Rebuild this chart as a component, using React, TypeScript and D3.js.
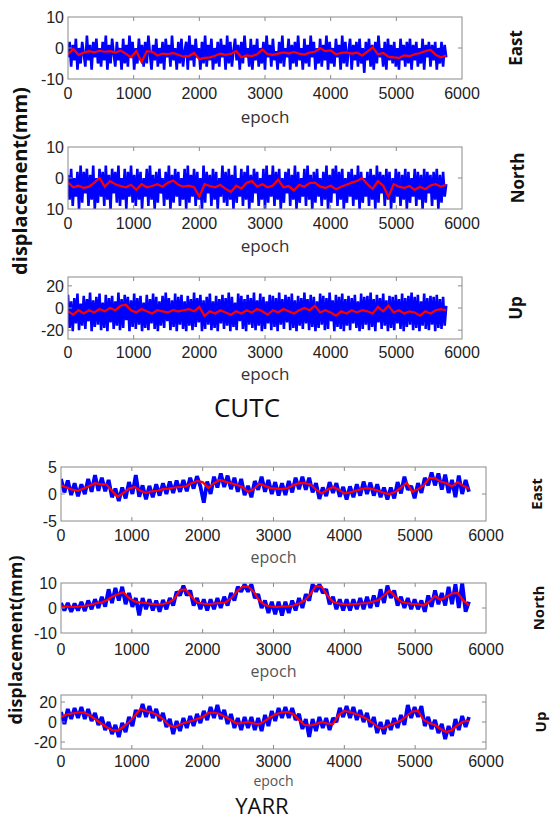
import React, { useRef, useEffect } from 'react';
import * as d3 from 'd3';

// last epoch of every series (samples are evenly spaced from 0 to here)
const LAST_EPOCH = 5760;
const xTicks = [0, 1000, 2000, 3000, 4000, 5000, 6000];

// ---- CUTC ----
const cutcEastRed = [-2, -0.3, -2.2, -1.5, -1.0, -1.4, -0.9, -1.2, -1.0, -1.5, -0.8, -1.8, -3.0, -1.0, -4.5, -1.0, -1.2, -2.4, -1.8, -2.0, -1.6, -2.2, -2.8, -2.6, -1.6, -3.6, -3.2, -3.0, -2.5, -1.8, -2.2, -1.9, -1.0, -3.0, -2.4, -2.6, -2.0, -0.5, -2.0, -2.2, -1.8, -1.4, -1.7, -1.3, -1.8, -2.1, -1.5, -1.2, 0.0, -1.0, -0.8, -2.0, -1.6, -1.4, -1.8, -1.5, -2.4, -1.2, 0.2, -2.0, -1.6, -2.8, -3.0, -3.2, -2.4, -2.6, -2.0, -1.6, -1.0, -0.6, -2.2, -3.0, -2.4];
const cutcEastBlue = [
  -3, 2, -6, 1, -4, 3, -7, 0, -5, 2,
  -2, -6, 4, -4, 1, -7, 2, -3, 3, -5,
  0, -6, 2, -4, 4, -7, 1, -5, 3, -2,
  -6, 2, -4, 0, -7, 3, -5, 1, -6, 4,
  -3, 2, -7, 0, -5, 3, -4, 1, -6, 2,
  -5, 4, -2, -7, 1, -4, 3, -6, 0, -5,
  2, -7, 3, -3, 1, -6, 4, -4, 0, -7,
  2, -5, 3, -6, -1, 2, -7, 4, -4, 1,
  -6, 3, -3, 0, -7, 2, -5, 4, -6, 1,
  -4, 3, -7, 0, -5, 2, -6, 3, -3, 1,
  -7, 4, -5, 2, -6, -1, 3, -4, 1, -7,
  2, -5, 4, -3, 0, -6, 3, -7, 1, -4,
  3, -6, 0, -5, 2, -7, 4, -3, 1, -6,
  3, -4, -1, -7, 2, -5, 4, -6, 0, -3,
  3, -7, 1, -5, 2, -6, 4, -4, 0, -7,
  3, -5, 1, -6, 4, -3, 2, -7, 0, -5,
  3, -6, 1, -4, 4, -7, 2, -5, 0, -6,
  3, -3, 1, -7, 4, -5, 2, -6, -1, 3,
  -7, 1, -4, 2, -6, 3, -5, 0, -8, 2,
  -4, 3, -6, 1, -7, 2, -5, 4, -3, 0,
  -6, 2, -7, 3, -4, 1, -5, 2, -6, 0,
  -7, 3, -4, 1, -6, 2, -5, 3, -7, 1,
  -4, 2, -6, 0, -5, 3, -7, 1, -3, 2,
  -6, 1, -4, 2, -7, 0, -5, 2, -6, 1,
  -3];

const cutcNorthRed = [-1.5, -3.0, -2.5, -3.2, -2.8, -1.5, 0.0, -2.8, -1.0, -2.0, -2.6, -3.0, -2.2, -3.8, -2.0, -3.0, -2.6, -2.0, -2.8, -1.5, -0.8, -2.2, -2.8, -2.5, -3.0, -6.0, -2.0, -2.6, -3.0, -2.2, -3.5, -4.5, -2.5, -3.4, -1.5, -1.0, -2.8, -2.0, -3.0, -2.4, -0.5, -3.0, -2.6, -4.0, -2.2, -2.8, -1.6, -1.5, -2.8, -3.2, -2.5, -3.6, -2.8, -2.2, -1.5, -1.0, 0.0, -2.0, -3.5, -1.0, -2.5, -6.0, -2.0, -2.8, -3.2, -2.6, -3.8, -2.8, -3.6, -2.4, -2.0, -2.8, -2.2];
const cutcNorthBlue = [
  1, -7, 3, -9, 0, -6, 2, -10, 4, -8,
  2, -5, 3, -9, 1, -7, 4, -10, 0, -8,
  3, -6, 2, -9, 4, -7, 1, -10, 3, -5,
  2, -8, 4, -9, 0, -7, 3, -10, 2, -6,
  4, -8, 1, -9, 3, -7, 2, -10, 0, -6,
  3, -9, 4, -7, 1, -10, 2, -8, 3, -5,
  0, -9, 2, -7, 4, -10, 1, -8, 3, -6,
  2, -9, 0, -7, 3, -10, 4, -8, 1, -6,
  3, -9, 2, -7, 0, -10, 4, -8, 2, -5,
  1, -9, 3, -7, 2, -10, 0, -6, 4, -8,
  2, -9, 3, -7, 1, -10, 4, -8, 0, -6,
  3, -9, 2, -7, 4, -10, 1, -8, 3, -5,
  2, -9, 0, -7, 3, -10, 4, -8, 1, -6,
  4, -9, 2, -7, 3, -10, 0, -8, 2, -5,
  3, -9, 1, -7, 4, -10, 2, -8, 0, -6,
  3, -9, 4, -7, 1, -10, 2, -8, 3, -6,
  0, -9, 2, -7, 4, -10, 1, -8, 3, -5,
  4, -9, 2, -7, 3, -10, 0, -8, 2, -6,
  3, -9, 1, -7, 4, -10, 2, -8, 0, -6,
  2, -9, 3, -7, 1, -10, 4, -8, 2, -5,
  1, -9, 3, -7, 2, -10, 0, -8, 3, -6,
  2, -9, 1, -7, 3, -10, 2, -8, 0, -6,
  3, -9, 2, -7, 1, -10, 3, -8, 2, -5,
  1, -9, 2, -7, 3, -10, 1, -8, 2, -6,
  -2];

const cutcUpRed = [-3, -6, -2, -5, -2, -4, -1, -3, 0, -2, 2, 3, -2, -4, -1, -3, -5, -2, -3, -4, -2, -3, -2, -1, -3, 1, -7, -3, -5, -2, -4, -6, -3, -5, -2, -4, -1, -3, -6, -2, -4, -1, -3, -5, -2, 0, -2, 2, -4, -2, -4, -7, -3, -5, -2, -4, -2, -3, -5, 1, -3, 2, -4, -2, -5, -3, -4, -7, -3, -5, -2, -1, -2];
const cutcUpBlue = [
  12, -18, 6, -21, 9, -14, 13, -20, 4, -16,
  11, -19, 8, -12, 14, -21, 7, -17, 10, -15,
  13, -20, 5, -18, 12, -21, 9, -13, 11, -19,
  6, -16, 14, -20, 8, -18, 12, -11, 10, -21,
  7, -17, 13, -19, 9, -15, 11, -21, 5, -18,
  12, -20, 8, -14, 13, -19, 10, -21, 6, -16,
  11, -18, 14, -12, 9, -20, 7, -17, 13, -21,
  10, -15, 12, -19, 6, -21, 11, -16, 8, -20,
  14, -17, 9, -13, 12, -21, 7, -19, 10, -15,
  13, -20, 6, -18, 11, -21, 8, -14, 12, -19,
  9, -16, 14, -21, 10, -17, 5, -20, 13, -12,
  11, -19, 8, -21, 12, -15, 9, -18, 14, -20,
  7, -16, 13, -21, 10, -19, 6, -14, 12, -20,
  11, -17, 9, -21, 14, -15, 8, -19, 12, -13,
  10, -20, 13, -18, 7, -21, 11, -16, 9, -19,
  14, -14, 8, -20, 12, -17, 10, -21, 6, -18,
  13, -15, 11, -20, 9, -19, 14, -12, 7, -21,
  12, -17, 10, -19, 13, -21, 8, -16, 11, -20,
  9, -14, 12, -18, 6, -21, 13, -19, 10, -15,
  11, -20, 14, -17, 8, -21, 12, -13, 9, -19,
  13, -16, 7, -21, 11, -18, 10, -20, 12, -14,
  8, -19, 13, -21, 9, -17, 11, -15, 14, -20,
  10, -18, 12, -21, 6, -16, 13, -19, 9, -20,
  11, -15, 10, -21, 12, -18, 8, -19, 10, -16,
  2];

// ---- YARR ----
const yarrEastRed = [1.6, 1.2, 0.8, 0.6, 1.0, 1.5, 2.0, 1.8, 1.8, 0.6, -0.5, 0.2, 1.0, 1.3, 0.6, 0.2, 0.5, 0.6, 0.9, 1.0, 1.2, 1.3, 1.4, 2.0, 2.4, 2.2, 1.1, 2.0, 2.6, 2.3, 2.0, 1.7, 1.3, 0.4, 0.9, 1.9, 1.5, 1.1, 1.0, 0.9, 1.1, 1.6, 2.0, 2.0, 1.8, 0.8, 0.1, 0.8, 1.3, 0.8, 0.1, 0.3, 0.6, 0.9, 1.1, 0.9, 0.6, 0.2, 0.0, 0.4, 1.2, 2.1, 0.4, 0.9, 1.6, 3.0, 2.9, 2.3, 2.0, 1.4, 2.2, 1.5, 1.0];
const yarrEastBlue = [2.8, 0.3, 2.5, -0.2, 2.0, -0.4, 1.8, 0.0, 2.8, 0.4, 3.5, 0.6, 3.0, 0.5, 2.6, -0.6, 1.0, -1.3, 1.2, -0.8, 2.2, 0.0, 3.5, -0.5, 1.6, -1.0, 1.5, -0.6, 1.8, -0.3, 2.0, 0.0, 2.3, 0.2, 2.5, 0.4, 2.6, 0.5, 3.0, 1.0, 3.3, 1.4, -1.6, 2.3, 0.0, 3.2, 1.2, 3.8, 1.3, 3.4, 0.9, 3.0, 0.4, 2.8, -0.2, 1.5, -0.6, 2.4, 0.8, 3.2, 0.4, 2.6, 0.0, 2.2, -0.3, 2.0, -0.2, 2.4, 0.3, 3.0, 0.9, 3.2, 0.8, 3.0, 0.3, 2.0, -0.9, 1.2, -0.4, 2.2, 0.2, 2.0, -0.5, 1.3, -1.0, 1.4, -0.6, 1.8, -0.3, 2.3, 0.0, 2.1, -0.3, 1.8, -0.6, 1.2, -1.0, 1.2, -0.8, 2.2, 0.1, 3.2, 0.8, 1.5, -0.8, 2.0, 0.2, 3.0, 1.6, 4.0, 1.6, 3.8, 0.8, 3.6, 0.2, 2.6, -0.6, 3.4, 0.0, 2.6, 0.4];

const yarrNorthRed = [0.5, 0.6, 0.4, 0.5, 0.8, 1.2, 1.8, 2.2, 3.0, 4.5, 5.5, 6.3, 4.0, 2.6, 2.2, 2.0, 1.6, 1.4, 1.6, 2.2, 3.6, 7.2, 7.4, 4.5, 2.2, 1.8, 1.5, 1.8, 2.0, 2.2, 3.8, 6.5, 8.5, 8.6, 6.5, 3.0, 1.2, 0.6, 0.4, 0.6, 0.6, 1.0, 1.8, 3.0, 5.5, 8.8, 8.5, 5.0, 2.5, 1.8, 1.5, 1.4, 1.6, 1.8, 2.0, 2.5, 3.2, 5.0, 7.0, 4.5, 2.6, 2.0, 1.6, 1.5, 1.0, 2.5, 4.8, 3.2, 4.5, 5.8, 6.0, 3.0, 1.0];
const yarrNorthBlue = [2, -1, 2, -1.5, 1.8, -1, 2.4, -1.2, 3, -0.5, 3.5, 0, 4.5, 0.5, 7.5, 2, 8, 3, 8.5, 1.5, 6, 0.5, 4, -3, 4, -0.5, 3.5, -1, 3, -1.5, 3.2, -0.5, 4, 1, 6.5, 5, 9, 5, 7, 1, 4, -0.5, 3.5, -1, 3.5, -0.5, 4, 0, 4.5, 1, 6, 3, 8.5, 6.5, 9.5, 6.5, 9.5, 4, 5.5, 0, 3, -2, 2.5, -2.5, 2.5, -3, 2.5, -2, 3, -1, 4, 0, 5.5, 3, 9.5, 6.5, 9.5, 6, 7.5, 1.5, 4.5, -0.5, 3.5, -1, 3.5, -1, 3.5, -0.5, 4, -0.5, 4.5, 0, 5, 0.5, 7.5, 2, 9, 4, 7, 1, 4.5, 0, 4, -0.5, 3.5, -0.5, 3, -1.5, 5, 0.5, 7, 1.5, 6, 1, 8.5, 1.5, 9.5, 0, 10, -1.5, 2.5];

const yarrUpRed = [5, 7.5, 8.5, 9.5, 9.5, 7, 3, -1, -5, -8, -8.5, -5, 0, 6, 13, 11, 9.5, 7, 3, -3, -5, -2.5, -0.5, 1, 3, 5, 9, 9.5, 8, 5, 2, -1.5, -1, 0, -1.5, -2, 1, 5, 8, 9.5, 10, 8, 2, -3, -3.5, -2, 0, -1.5, -2, 7, 11, 10, 8, 6, 3, -1, -5.5, -6, -3, -1, 1.5, 6, 10.5, 11, 2, -1, -3, -7, -10, -8, -3, 0.5, 1];
const yarrUpBlue = [10, -2, 13, 3, 14, 4, 15, 3, 13, 1, 9, -3, 5, -8, 0, -12, -3, -15, -1, -10, 5, -4, 12, 5, 18, 5, 16, 4, 13, 1, 9, -5, 3, -12, 1, -9, 4, -6, 6, -4, 8, -1, 11, 2, 15, 4, 17, 3, 12, -2, 8, -6, 4, -8, 5, -6, 5, -8, 4, -9, 7, -4, 11, 1, 14, 4, 15, 4, 14, 2, 8, -7, 3, -15, 3, -9, 5, -6, 4, -8, 4, 0, 14, 5, 16, 4, 15, 2, 12, 0, 9, -5, 5, -11, 0, -12, 2, -8, 4, -6, 7, -3, 17, 4, 15, 5, 16, -4, 5, -7, 2, -11, -2, -17, -4, -14, 3, -8, 6, -5, 5];

const App = () => {
    const ref = useRef<SVGSVGElement>(null);

    useEffect(() => {
        const svg = d3.select(ref.current);
        svg.selectAll('*').remove();

        const panels = [
            { key: 'ce', left: 68, right: 462, top: 17, bottom: 79, domain: [-10, 10], ticks: [-10, 0, 10], labels: ['-10', '0', '10'],
              blue: cutcEastBlue, red: cutcEastRed, blueWidth: 2.6, name: 'East', nameX: 516, nameSize: 17, tickY: 99, epochY: 123, epochSize: 17, epochColor: '#333' },
            { key: 'cn', left: 68, right: 462, top: 147, bottom: 209, domain: [-10, 10], ticks: [-10, 0, 10], labels: ['10', '0', '10'],
              blue: cutcNorthBlue, red: cutcNorthRed, blueWidth: 2.6, name: 'North', nameX: 518, nameSize: 17, tickY: 229, epochY: 252, epochSize: 17, epochColor: '#333' },
            { key: 'cu', left: 68, right: 462, top: 277, bottom: 339, domain: [-28, 28], ticks: [-20, 0, 20], labels: ['-20', '0', '20'],
              blue: cutcUpBlue, red: cutcUpRed, blueWidth: 2.6, name: 'Up', nameX: 516, nameSize: 17, tickY: 358, epochY: 380, epochSize: 17, epochColor: '#333' },
            { key: 'ye', left: 61, right: 486, top: 467, bottom: 521, domain: [-5, 5], ticks: [-5, 0, 5], labels: ['-5', '0', '5'],
              blue: yarrEastBlue, red: yarrEastRed, blueWidth: 3.8, name: 'East', nameX: 537, nameSize: 15, tickY: 541, epochY: 563, epochSize: 16, epochColor: '#555' },
            { key: 'yn', left: 61, right: 486, top: 583, bottom: 633, domain: [-10, 10], ticks: [-10, 0, 10], labels: ['-10', '0', '10'],
              blue: yarrNorthBlue, red: yarrNorthRed, blueWidth: 3.8, name: 'North', nameX: 539, nameSize: 15, tickY: 655, epochY: 677, epochSize: 16, epochColor: '#555' },
            { key: 'yu', left: 61, right: 486, top: 695, bottom: 749, domain: [-27, 27], ticks: [-20, 0, 20], labels: ['-20', '0', '20'],
              blue: yarrUpBlue, red: yarrUpRed, blueWidth: 3.8, name: 'Up', nameX: 541, nameSize: 15, tickY: 767, epochY: 786, epochSize: 14, epochColor: '#555' },
        ];

        const numFont = '"Liberation Sans", Arial, sans-serif';
        const textFont = '"Open Sans", sans-serif';

        panels.forEach(p => {
            const x = d3.scaleLinear().domain([0, 6000]).range([p.left, p.right]);
            const y = d3.scaleLinear().domain(p.domain).range([p.bottom, p.top]);
            const g = svg.append('g');

            g.append('clipPath').attr('id', 'clip-' + p.key)
                .append('rect')
                .attr('x', p.left).attr('y', p.top)
                .attr('width', p.right - p.left).attr('height', p.bottom - p.top);

            const toPts = (arr: number[]) => arr.map((v, i) => [i * LAST_EPOCH / (arr.length - 1), v] as [number, number]);
            const line = d3.line<[number, number]>().x(d => x(d[0])).y(d => y(d[1]));

            const plot = g.append('g').attr('clip-path', `url(#clip-${p.key})`);
            plot.append('path')
                .attr('d', line(toPts(p.blue)))
                .attr('fill', 'none')
                .attr('stroke', '#0000ff')
                .attr('stroke-width', p.blueWidth)
                .attr('stroke-linejoin', 'bevel');
            plot.append('path')
                .attr('d', line(toPts(p.red)))
                .attr('fill', 'none')
                .attr('stroke', '#ff0000')
                .attr('stroke-width', 2.2);

            // box
            g.append('rect')
                .attr('x', p.left).attr('y', p.top)
                .attr('width', p.right - p.left).attr('height', p.bottom - p.top)
                .attr('fill', 'none').attr('stroke', '#8a8a8a').attr('stroke-width', 1);

            // inward ticks
            xTicks.slice(1, -1).forEach(t => {
                g.append('line').attr('x1', x(t)).attr('x2', x(t)).attr('y1', p.bottom).attr('y2', p.bottom - 4).attr('stroke', '#8a8a8a');
                g.append('line').attr('x1', x(t)).attr('x2', x(t)).attr('y1', p.top).attr('y2', p.top + 4).attr('stroke', '#8a8a8a');
            });
            p.ticks.forEach(t => {
                if (t === p.domain[0] || t === p.domain[1]) return;
                g.append('line').attr('x1', p.left).attr('x2', p.left + 4).attr('y1', y(t)).attr('y2', y(t)).attr('stroke', '#8a8a8a');
                g.append('line').attr('x1', p.right).attr('x2', p.right - 4).attr('y1', y(t)).attr('y2', y(t)).attr('stroke', '#8a8a8a');
            });

            // tick labels
            xTicks.forEach(t => {
                g.append('text').attr('x', x(t)).attr('y', p.tickY)
                    .attr('text-anchor', 'middle')
                    .style('font-family', numFont).style('font-size', '16px').attr('fill', '#222')
                    .text(t);
            });
            p.ticks.forEach((t, i) => {
                g.append('text').attr('x', p.left - 4).attr('y', y(t)).attr('dy', '0.36em')
                    .attr('text-anchor', 'end')
                    .style('font-family', numFont).style('font-size', '16px').attr('fill', '#222')
                    .text(p.labels[i]);
            });

            g.append('text').attr('x', (p.left + p.right) / 2).attr('y', p.epochY)
                .attr('text-anchor', 'middle')
                .style('font-family', textFont).style('font-size', p.epochSize + 'px').attr('fill', p.epochColor)
                .text('epoch');

            const cy = (p.top + p.bottom) / 2;
            g.append('text')
                .attr('transform', `translate(${p.nameX},${cy}) rotate(-90)`)
                .attr('text-anchor', 'middle').attr('dy', '0.35em')
                .style('font-family', textFont).style('font-weight', 'bold').style('font-size', p.nameSize + 'px').attr('fill', '#111')
                .text(p.name);
        });

        // shared y titles and station names
        svg.append('text')
            .attr('transform', 'translate(20,181) rotate(-90)')
            .attr('text-anchor', 'middle').attr('dy', '0.35em')
            .style('font-family', textFont).style('font-weight', 'bold').style('font-size', '20px').attr('fill', '#111')
            .text('displacement(mm)');
        svg.append('text')
            .attr('transform', 'translate(16,640) rotate(-90)')
            .attr('text-anchor', 'middle').attr('dy', '0.35em')
            .style('font-family', textFont).style('font-weight', 'bold').style('font-size', '18px').attr('fill', '#111')
            .text('displacement(mm)');

        svg.append('text').attr('x', 247).attr('y', 417).attr('text-anchor', 'middle')
            .style('font-family', textFont).style('font-size', '26px').attr('fill', '#111')
            .text('CUTC');
        svg.append('text').attr('x', 262).attr('y', 814).attr('text-anchor', 'middle')
            .style('font-family', textFont).style('font-size', '22px').attr('fill', '#111')
            .text('YARR');
    }, []);

    return (
        <svg ref={ref} width={551} height={822} style={{ position: 'absolute', left: 0, top: 0, background: '#fff' }}></svg>
    );
};

export default App;
